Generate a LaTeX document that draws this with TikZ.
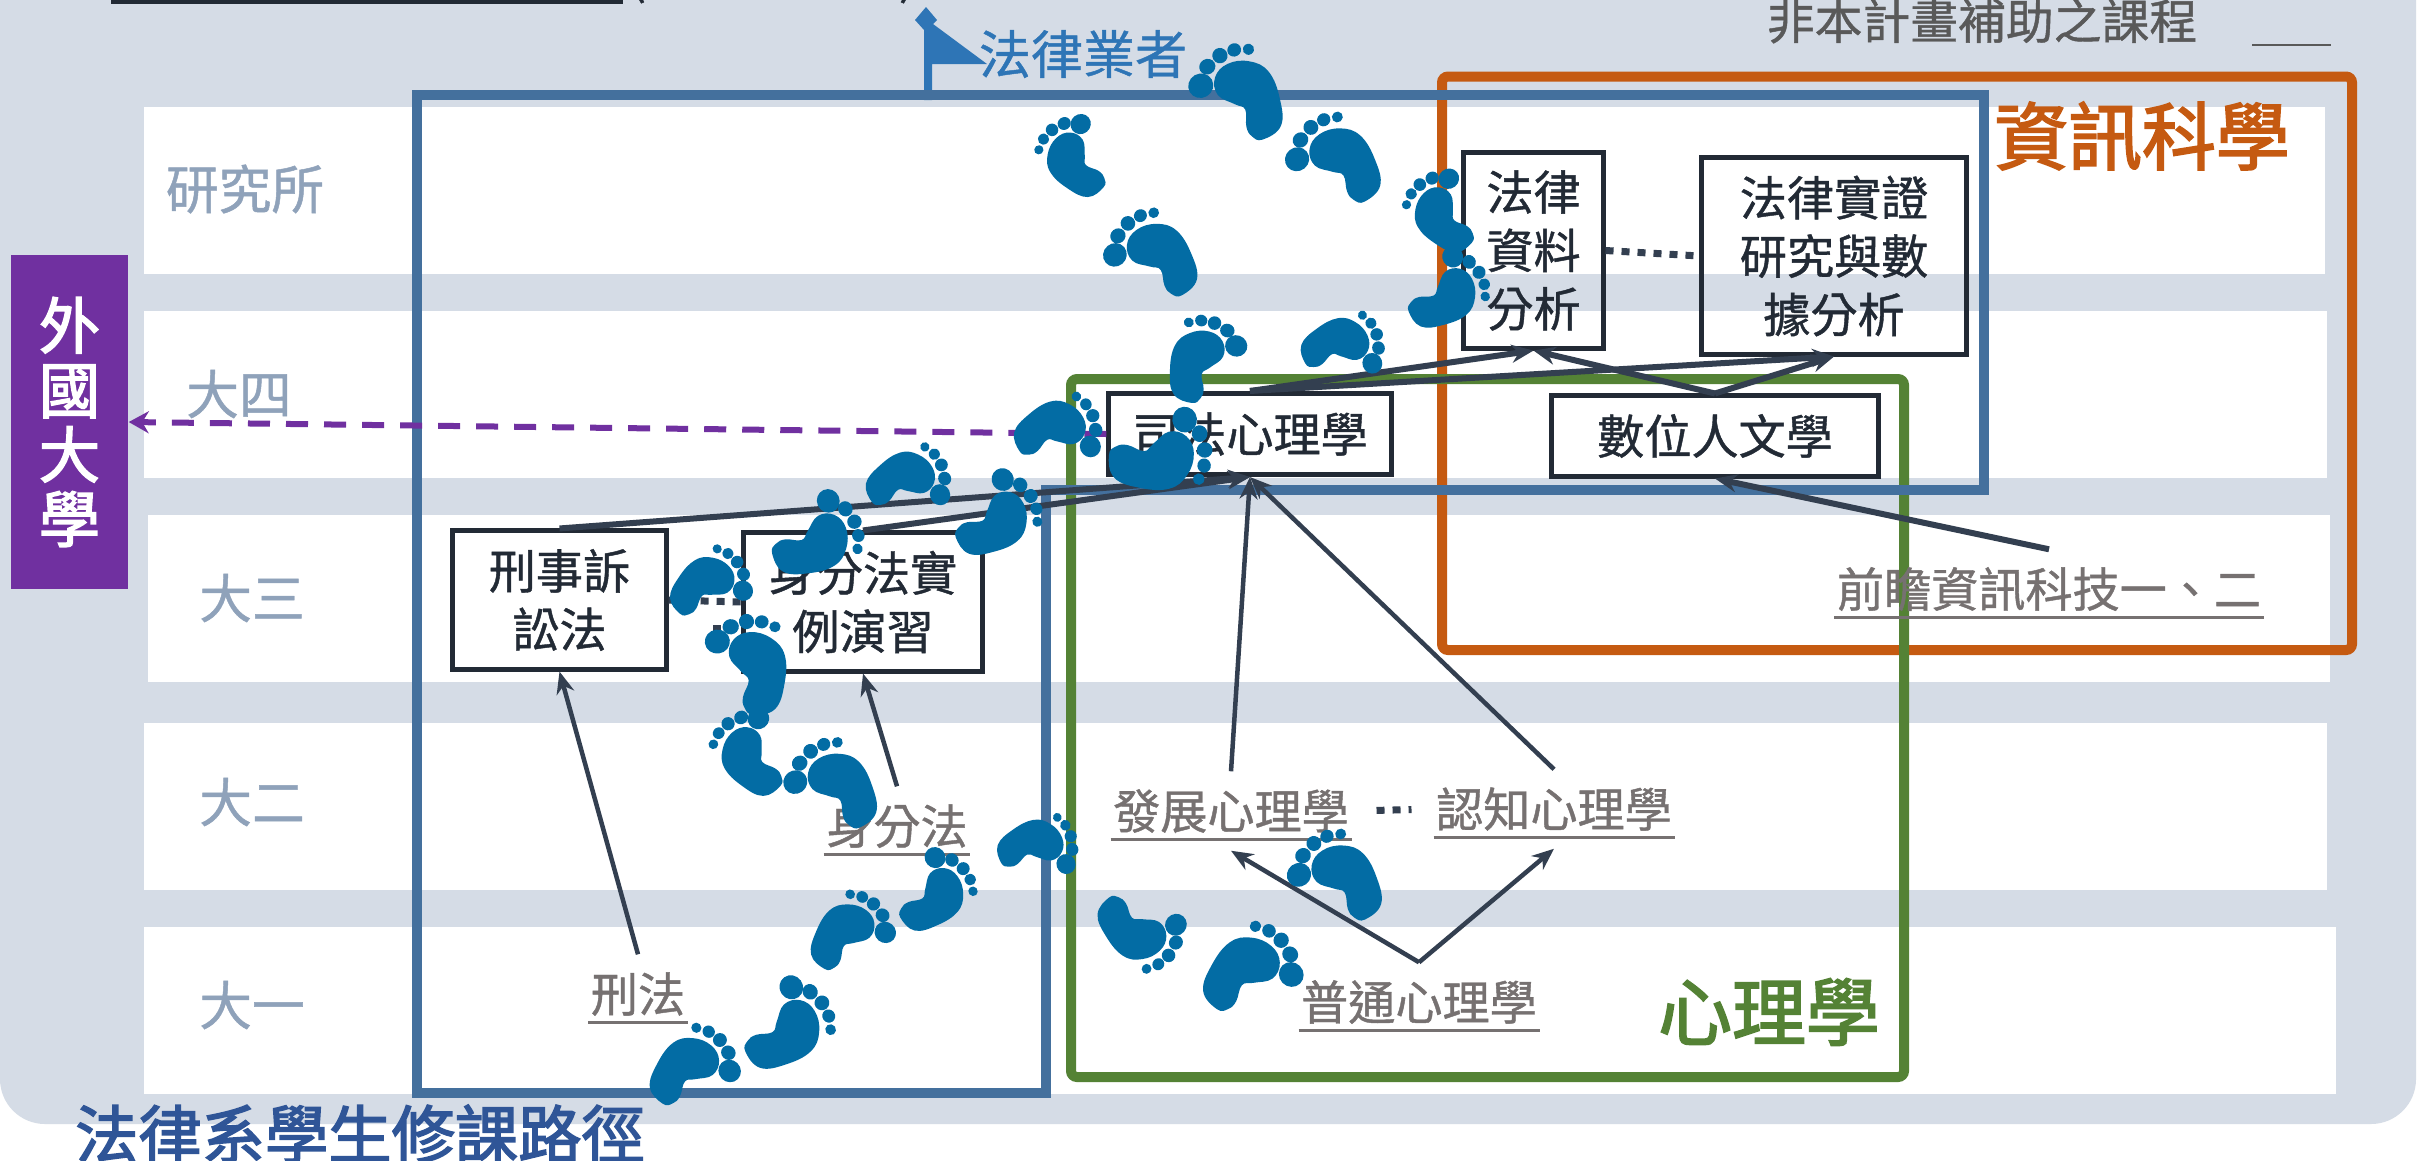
\documentclass[tikz,border=0pt]{standalone}
\usepackage{fontspec}
\setmainfont[FakeBold=0.9]{Noto Sans CJK TC}
\newfontfamily\heavyfont[FakeBold=2.4]{Noto Sans CJK TC}
\usetikzlibrary{arrows.meta}
\definecolor{bandgray}{HTML}{D5DCE6}
\definecolor{rowtext}{HTML}{8FA2BA}
\definecolor{boxdark}{HTML}{222A35}
\definecolor{linkdark}{HTML}{333F50}
\definecolor{coursegray}{HTML}{767171}
\definecolor{notegray}{HTML}{595959}
\definecolor{abroadpurple}{HTML}{7030A0}
\definecolor{routeblue}{HTML}{44709D}
\definecolor{flagblue}{HTML}{2E75B6}
\definecolor{titleblue}{HTML}{2F5597}
\definecolor{footblue}{HTML}{036CA4}
\definecolor{psygreen}{HTML}{548235}
\definecolor{infoorange}{HTML}{C55A11}
\begin{document}
\begin{tikzpicture}[
		x=0.01cm,y=-0.01cm,
		rowlabel/.style={text=rowtext,font=\fontsize{15}{18}\selectfont,inner sep=0pt},
		coursebox/.style={draw=boxdark,line width=0.05cm,inner sep=0pt,align=center,text=boxdark,font=\fontsize{13.4}{16.6}\selectfont},
		courseline/.style={draw=coursegray,line width=0.03cm},
		course/.style={text=coursegray,font=\fontsize{13.4}{16}\selectfont,inner ysep=0pt,inner xsep=0.02cm,minimum height=0.78cm,
				append after command={([yshift=-0.28cm]\tikzlastnode.west) edge[courseline] ([yshift=-0.28cm]\tikzlastnode.east)}},
		link/.style={draw=linkdark,line width=0.06cm,-{Stealth[length=0.22cm,width=0.18cm]}},
		thinlink/.style={link,line width=0.045cm},
		dots/.style={draw=linkdark,line width=0.07cm,dash pattern=on 0.08cm off 0.08cm},
		group/.style={line width=0.1cm,rounded corners=0.06cm},
		rightfoot/.style={xscale=-1},
		foot/.pic={
				\begin{scope}[x=0.0115cm,y=0.01cm]
					\fill[footblue] plot[smooth cycle,tension=0.7] coordinates {(7,-49.5) (-11,-47) (-21,-25) (-24,1) (-15,18) (1,26) (15,21) (20,6) (12,-9) (7,-18) (13,-32) (13,-42)};
					\fill[footblue] (-19,28) circle [x radius=4.5,y radius=5];
					\fill[footblue] (-9,34) circle [x radius=5.5,y radius=6];
					\fill[footblue] (3,36) circle [x radius=6,y radius=7];
					\fill[footblue] (16,33) circle [x radius=6.5,y radius=7];
					\fill[footblue] (28,21) circle [x radius=10,y radius=11];
				\end{scope}
			}
	]
	\path[use as bounding box,clip] (0,0) rectangle (2419,1160);
	\fill[white] (0,0) rectangle (2419,1160);
	\fill[bandgray,rounded corners=0.45cm] (0,-80) rectangle (2416,1124);

	\fill[white] (144,107) rectangle (2325,274);
	\fill[white] (144,311) rectangle (2327,478);
	\fill[white] (148,515) rectangle (2330,682);
	\fill[white] (144,723) rectangle (2327,890);
	\fill[white] (144,927) rectangle (2336,1094);

	\draw[boxdark,line width=0.08cm] (111,0) -- (623,0);
	\node[text=boxdark,font=\fontsize{13.4}{16}\selectfont,anchor=south,inner sep=0pt] (openparen) at (638,4) {(};
	\node[text=boxdark,font=\fontsize{13.4}{16}\selectfont,anchor=south,inner sep=0pt] (closeparen) at (907,4) {)};

	\node[text=notegray,font=\fontsize{13.6}{16}\selectfont,inner sep=0pt] (note) at (1982,21) {非本計畫補助之課程};
	\draw[notegray,line width=0.02cm] (2252,45) -- (2331,45);

	\node[rowlabel] (grad) at (245,189) {研究所};
	\node[rowlabel] (year4) at (239,394) {大四};
	\node[rowlabel] (year3) at (252,598) {大三};
	\node[rowlabel] (year2) at (252,802) {大二};
	\node[rowlabel] (year1) at (252,1005) {大一};

	\node[fill=abroadpurple,text=white,align=center,inner sep=0pt,minimum width=1.17cm,minimum height=3.34cm,font=\heavyfont\fontsize{17.4}{18.35}\selectfont] (abroad) at (69.5,422) {外\\國\\大\\學};

	\draw[infoorange,group] (1442,76.5) rectangle (2352,650);
	\draw[psygreen,group] (1071,379) rectangle (1904,1077);
	\fill[flagblue] (926,7) -- (937,20) -- (933,24) -- (987,64) -- (932,64) -- (932,100) -- (924,100) -- (924,30) -- (915,20) -- cycle;
	\draw[routeblue,line width=0.1cm] (417,95) -- (1984,95) -- (1984,490) -- (1046,490) -- (1046,1093) -- (417,1093) -- cycle;

	\node[text=flagblue,font=\fontsize{14.8}{18}\selectfont,inner sep=0pt] (lawyer) at (1083,54) {法律業者};
	\node[text=infoorange,font=\heavyfont\fontsize{21}{24}\selectfont,inner sep=0pt] (infolabel) at (2142,136) {資訊科學};
	\node[text=psygreen,font=\heavyfont\fontsize{21}{24}\selectfont,inner sep=0pt] (psylabel) at (1769,1012) {心理學};
	\node[text=titleblue,font=\heavyfont\fontsize{18}{22}\selectfont,inner sep=0pt] (pathlabel) at (360,1134) {法律系學生修課路徑};

	\node[coursebox,minimum width=1.39cm,minimum height=1.95cm] (lawdata) at (1533.5,250.5) {法律\\資料\\分析};
	\node[coursebox,minimum width=2.64cm,minimum height=1.96cm] (empirical) at (1834,256) {法律實證\\研究與數\\據分析};
	\node[coursebox,minimum width=2.82cm,minimum height=0.81cm] (forensic) at (1250,434) {司法心理學};
	\node[coursebox,minimum width=3.27cm,minimum height=0.80cm] (digital) at (1715,436) {數位人文學};
	\node[coursebox,minimum width=2.13cm,minimum height=1.38cm] (procedure) at (559.5,600) {刑事訴\\訟法};
	\node[coursebox,minimum width=2.38cm,minimum height=1.38cm] (statuscase) at (863,602) {身分法實\\例演習};

	\node[course] (criminal) at (638,994) {刑法};
	\node[course] (status) at (897,826) {身分法};
	\node[course] (develop) at (1231,811) {發展心理學};
	\node[course] (cognitive) at (1554,809) {認知心理學};
	\node[course] (general) at (1419,1002) {普通心理學};
	\node[course] (frontier) at (2049,589) {前瞻資訊科技一、二};

	\draw[thinlink] (criminal.north) -- (procedure.south);
	\draw[thinlink] (status.north) -- (statuscase.south);
	\draw[thinlink] (develop.north) -- (forensic.south);
	\draw[thinlink] (cognitive.north) -- (forensic.south);
	\draw[link] (procedure.north) -- (forensic.south);
	\draw[link] (statuscase.north) -- (forensic.south);
	\draw[link] (forensic.north) -- (lawdata.south);
	\draw[link] (forensic.north) -- (empirical.south);
	\draw[link] (digital.north) -- (lawdata.south);
	\draw[link] (digital.north) -- (empirical.south);
	\draw[link] (frontier.north) -- (digital.south);
	\draw[thinlink] (general.north) -- (develop.south);
	\draw[thinlink] (general.north) -- (cognitive.south);

	\draw[dots] (lawdata.east) -- (empirical.west);
	\draw[dots] (procedure.east) -- (statuscase.west);
	\coordinate (dotstart) at (713,628);
	\draw[dots] (dotstart) -- (statuscase.west |- dotstart);
	\draw[dots,shorten <=0.25cm,shorten >=0.22cm] (develop.east) -- (cognitive.west);

	\draw[draw=abroadpurple,line width=0.06cm,dash pattern=on 0.22cm off 0.16cm,-{Stealth[length=0.2cm,width=0.22cm]}] (forensic.west) -- (abroad.east);

	\pic[rotate=-45] at (692,1063) {foot};
	\pic[rotate=-54.5,rightfoot,scale=1.06] at (793,1028) {foot};
	\pic[rotate=-40,scale=0.95] at (849,928) {foot};
	\pic[rotate=-49,rightfoot,scale=0.93] at (940,893) {foot};
	\pic[rotate=-72,scale=0.87] at (1040,843) {foot};
	\pic[rotate=36,rightfoot,scale=1.06] at (836,780) {foot};
	\pic[rotate=37,scale=0.95] at (746,753) {foot};
	\pic[rotate=7,rightfoot,scale=1.09] at (755,660) {foot};
	\pic[rotate=-51,scale=0.9] at (710,580) {foot};
	\pic[rotate=-66,rightfoot,scale=1.03] at (822,540) {foot};
	\pic[rotate=-58,rightfoot] at (1002,518) {foot};
	\pic[rotate=-65,scale=0.92] at (910,476) {foot};
	\pic[rotate=-67,scale=0.95] at (1060,426) {foot};
	\pic[rotate=-84,rightfoot,scale=1.12] at (1165,458) {foot};
	\pic[rotate=-19,scale=0.97] at (1200,355) {foot};
	\pic[rotate=-71,scale=0.9] at (1345,342) {foot};
	\pic[rotate=-58,rightfoot,scale=0.94] at (1452,293) {foot};
	\pic[rotate=39,scale=0.91] at (1438,212) {foot};
	\pic[rotate=39,rightfoot,scale=1.07] at (1338,155) {foot};
	\pic[rotate=30,rightfoot,scale=1.1] at (1243,88) {foot};
	\pic[rotate=40,rightfoot,scale=1.05] at (1155,250) {foot};
	\pic[rotate=39,scale=0.9] at (1070,157) {foot};
	\pic[rotate=-131,rightfoot,scale=0.97] at (1140,935) {foot};
	\pic[rotate=-46,scale=1.1] at (1250,965) {foot};
	\pic[rotate=37,rightfoot,scale=1.07] at (1340,872) {foot};
\end{tikzpicture}
\end{document}
